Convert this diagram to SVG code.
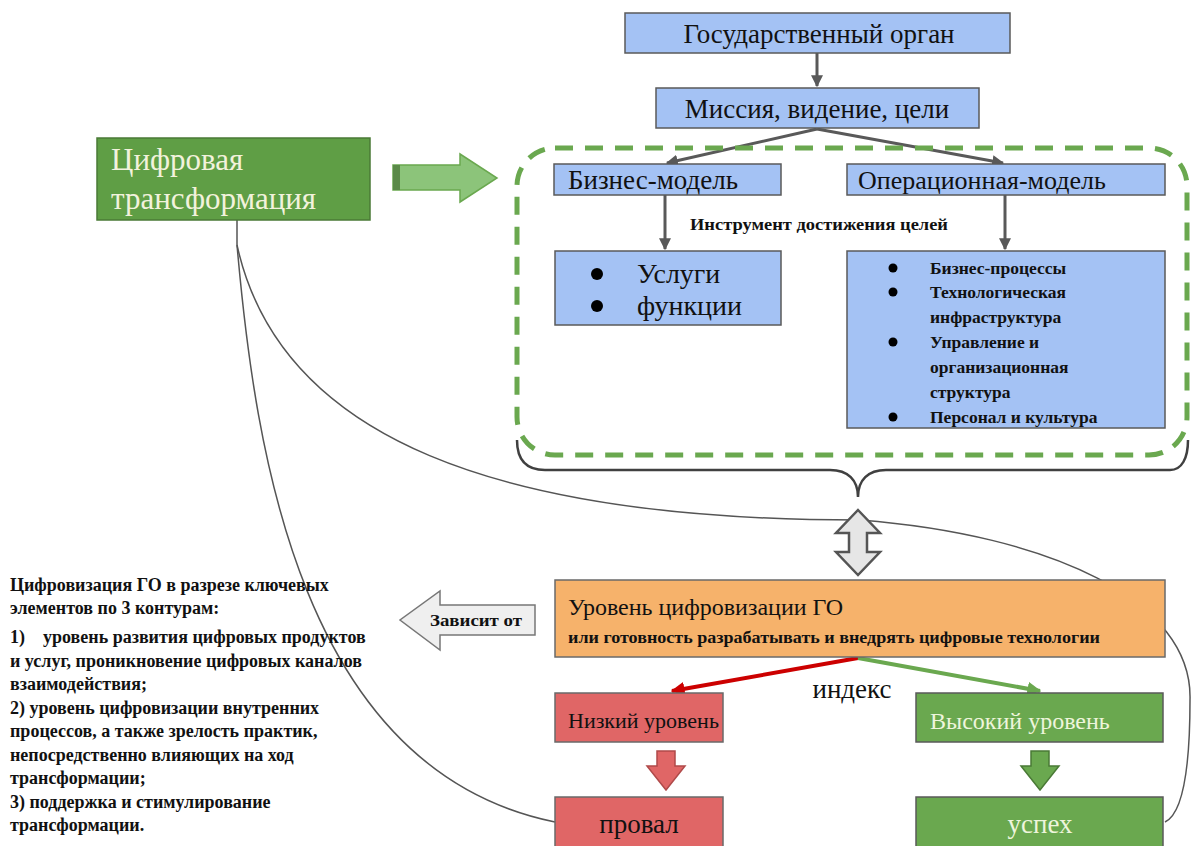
<svg xmlns="http://www.w3.org/2000/svg" width="1193" height="846" viewBox="0 0 1193 846">
<defs>
<style>
.t{font-family:"Liberation Serif","DejaVu Serif",serif;fill:#111}
.b{font-weight:bold}
.blue{fill:#a4c2f4;stroke:#5a5a5a;stroke-width:1.5}
.conn{stroke:#595959;stroke-width:3;fill:none}
.thin{stroke:#555;stroke-width:1.5;fill:none}
</style>
<marker id="ah" viewBox="0 0 10 10" refX="9" refY="5" markerWidth="4" markerHeight="4" orient="auto"><path d="M0,0 L10,5 L0,10 z" fill="#595959"/></marker>
<marker id="ahr" viewBox="0 0 10 10" refX="9" refY="5" markerWidth="3.5" markerHeight="3.5" orient="auto"><path d="M0,0 L10,5 L0,10 z" fill="#cc0000"/></marker>
<marker id="ahg" viewBox="0 0 10 10" refX="9" refY="5" markerWidth="3.5" markerHeight="3.5" orient="auto"><path d="M0,0 L10,5 L0,10 z" fill="#6aa84f"/></marker>
</defs>
<rect width="1193" height="846" fill="#fff"/>

<g id="connectors">
<line class="conn" x1="817" y1="53" x2="817" y2="86" marker-end="url(#ah)"/>
<line class="conn" x1="817" y1="129" x2="667" y2="163" marker-end="url(#ah)"/>
<line class="conn" x1="817" y1="129" x2="1003" y2="163" marker-end="url(#ah)"/>
<line class="conn" x1="665" y1="195" x2="665" y2="249" marker-end="url(#ah)"/>
<line class="conn" x1="1005" y1="195" x2="1005" y2="249" marker-end="url(#ah)"/>
<line x1="858" y1="658" x2="672" y2="691" stroke="#cc0000" stroke-width="4" marker-end="url(#ahr)"/>
<line x1="858" y1="658" x2="1040" y2="691" stroke="#6aa84f" stroke-width="4" marker-end="url(#ahg)"/>
<path class="thin" d="M237,220 L237,245"/>
<path class="thin" d="M237,245 C255,450 300,770 555,822"/>
<path class="thin" d="M237,245 C280,440 500,520 860,520 C1050,535 1193,600 1190,700 C1190,780 1180,815 1165,822"/>
</g>

<g id="dashed-group">
<rect x="517" y="148" width="670" height="307" rx="38" fill="none" stroke="#6aa84f" stroke-width="5" stroke-dasharray="18,12"/>
</g>

<g id="brace">
<path d="M517,440 C517,458 525,470 545,470 L830,470 C848,470 858,480 858,497 C858,480 868,470 886,470 L1170,470 C1182,470 1188,458 1188,440" fill="none" stroke="#404040" stroke-width="2.5"/>
</g>

<g id="gos-organ">
<rect class="blue" x="625" y="13" width="385" height="40"/>
<text class="t" x="819" y="43" font-size="27" text-anchor="middle">Государственный орган</text>
</g>

<g id="mission">
<rect class="blue" x="656" y="88" width="323" height="40"/>
<text class="t" x="817" y="118" font-size="27" text-anchor="middle">Миссия, видение, цели</text>
</g>

<g id="digital-transformation">
<rect x="97" y="138" width="273" height="82" fill="#5f9e45" stroke="#4a7a36" stroke-width="1.5"/>
<text class="t" x="111" y="170" font-size="31" style="fill:#f2f2dc">Цифровая</text>
<text class="t" x="111" y="209" font-size="31" style="fill:#f2f2dc">трансформация</text>
</g>

<g id="green-arrow">
<path d="M393,165 L460,165 L460,154 L497,178 L460,202 L460,190 L393,190 Z" fill="#8cc47a" stroke="#6aa84f" stroke-width="1.5"/>
<rect x="393" y="165" width="7" height="25" fill="#5a8a48"/>
</g>

<g id="business-model">
<rect class="blue" x="554" y="164" width="227" height="31"/>
<text class="t" x="568" y="189" font-size="27">Бизнес-модель</text>
</g>

<g id="operational-model">
<rect class="blue" x="847" y="164" width="318" height="31"/>
<text class="t" x="858" y="189" font-size="26">Операционная-модель</text>
</g>

<g id="tool-label">
<text class="t b" x="690" y="230" font-size="17" textLength="258" lengthAdjust="spacingAndGlyphs">Инструмент достижения целей</text>
</g>

<g id="services">
<rect class="blue" x="555" y="251" width="226" height="74"/>
<circle cx="597" cy="274" r="6" fill="#000"/>
<circle cx="597" cy="306" r="6" fill="#000"/>
<text class="t" x="637" y="283" font-size="28">Услуги</text>
<text class="t" x="637" y="315" font-size="28">функции</text>
</g>

<g id="operations">
<rect class="blue" x="847" y="251" width="318" height="177"/>
<g class="t b" font-size="17.5">
<circle cx="893" cy="268" r="4.5" fill="#000"/>
<text x="930" y="274">Бизнес-процессы</text>
<circle cx="893" cy="292" r="4.5" fill="#000"/>
<text x="930" y="298">Технологическая</text>
<text x="930" y="323">инфраструктура</text>
<circle cx="893" cy="342" r="4.5" fill="#000"/>
<text x="930" y="348">Управление и</text>
<text x="930" y="373">организационная</text>
<text x="930" y="398">структура</text>
<circle cx="893" cy="417" r="4.5" fill="#000"/>
<text x="930" y="423">Персонал и культура</text>
</g>
</g>

<g id="double-arrow">
<path d="M858,510 L880,533 L867,533 L867,552 L880,552 L858,575 L836,552 L849,552 L849,533 L836,533 Z" fill="#e6e6e6" stroke="#555" stroke-width="2.5"/>
</g>

<g id="level">
<rect x="555" y="580" width="610" height="77" fill="#f6b26b" stroke="#6a6a6a" stroke-width="1.5"/>
<text class="t" x="568" y="615" font-size="24">Уровень цифровизации ГО</text>
<text class="t b" x="568" y="643" font-size="17" textLength="532" lengthAdjust="spacingAndGlyphs">или готовность разрабатывать и внедрять цифровые технологии</text>
</g>

<g id="depends-arrow">
<path d="M535,605 L440,605 L440,591 L400,620 L440,650 L440,635 L535,635 Z" fill="#efefef" stroke="#777" stroke-width="1.5"/>
<text class="t b" x="430" y="626" font-size="17" textLength="92" lengthAdjust="spacingAndGlyphs">Зависит от</text>
</g>

<g id="index-label">
<text class="t" x="852" y="698" font-size="27" text-anchor="middle">индекс</text>
</g>

<g id="low">
<rect x="555" y="693" width="168" height="49" fill="#e06666" stroke="#6a6a6a" stroke-width="1.5"/>
<text class="t" x="568" y="728" font-size="22">Низкий уровень</text>
</g>

<g id="high">
<rect x="916" y="693" width="247" height="49" fill="#6aa84f" stroke="#5a5a5a" stroke-width="1.5"/>
<text class="t" x="930" y="729" font-size="24" style="fill:#eef5dc">Высокий уровень</text>
</g>

<g id="red-down">
<path d="M657,751 L675,751 L675,766 L685,766 L666,790 L647,766 L657,766 Z" fill="#e06666" stroke="#b04a4a" stroke-width="1.5"/>
</g>
<g id="green-down">
<path d="M1031,751 L1049,751 L1049,766 L1059,766 L1040,790 L1021,766 L1031,766 Z" fill="#6aa84f" stroke="#4a7a36" stroke-width="1.5"/>
</g>

<g id="fail">
<rect x="555" y="797" width="168" height="52" fill="#e06666" stroke="#6a6a6a" stroke-width="1.5"/>
<text class="t" x="639" y="833" font-size="27" text-anchor="middle">провал</text>
</g>

<g id="success">
<rect x="916" y="797" width="247" height="52" fill="#6aa84f" stroke="#5a5a5a" stroke-width="1.5"/>
<text class="t" x="1040" y="833" font-size="27" text-anchor="middle" style="fill:#eef5dc">успех</text>
</g>

<g id="description" class="t b" font-size="18">
<text x="10" y="591">Цифровизация ГО в разрезе ключевых</text>
<text x="10" y="614">элементов по 3 контурам:</text>
<text x="10" y="643" xml:space="preserve">1)    уровень развития цифровых продуктов</text>
<text x="10" y="667">и услуг, проникновение цифровых каналов</text>
<text x="10" y="690">взаимодействия;</text>
<text x="10" y="714">2) уровень цифровизации внутренних</text>
<text x="10" y="737">процессов, а также зрелость практик,</text>
<text x="10" y="761">непосредственно влияющих на ход</text>
<text x="10" y="784">трансформации;</text>
<text x="10" y="808">3) поддержка и стимулирование</text>
<text x="10" y="831">трансформации.</text>
</g>
</svg>
